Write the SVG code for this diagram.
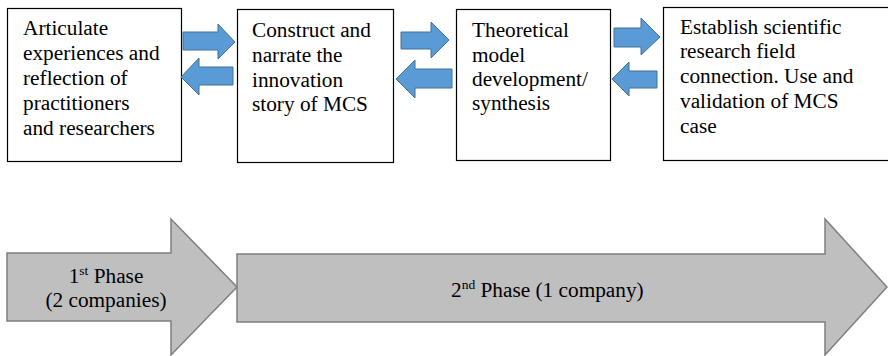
<svg xmlns="http://www.w3.org/2000/svg" width="888" height="356" viewBox="0 0 888 356">
<style>
.box{fill:#fff;stroke:#000;stroke-width:1.2}
.t{font-family:'Liberation Serif','DejaVu Serif',serif;font-size:21.3px;fill:#000}
.tb{font-family:'Liberation Serif','DejaVu Serif',serif;font-size:21.3px;fill:#000}
.sup{font-size:13.5px}
.blue{fill:#5b9bd5;stroke:#41719c;stroke-width:1}
.phase{fill:#bfbfbf;stroke:#7f7f7f;stroke-width:1.5}
</style>
<rect width="888" height="356" fill="#fff"/>
<g id="node1">
<rect class="box" x="7.5" y="8.5" width="174" height="153"/>
<text class="t"><tspan x="23" y="35">Articulate</tspan><tspan x="23" y="60">experiences and</tspan><tspan x="23" y="85">reflection of</tspan><tspan x="23" y="110">practitioners</tspan><tspan x="23" y="135">and researchers</tspan></text>
</g>
<g id="node2">
<rect class="box" x="237.5" y="9.5" width="156" height="153"/>
<text class="t"><tspan x="252" y="37">Construct and</tspan><tspan x="252" y="62">narrate the</tspan><tspan x="252" y="87">innovation</tspan><tspan x="252" y="111">story of MCS</tspan></text>
</g>
<g id="node3">
<rect class="box" x="456.5" y="9.5" width="154" height="151"/>
<text class="t"><tspan x="472" y="37">Theoretical</tspan><tspan x="472" y="62">model</tspan><tspan x="472" y="86">development/</tspan><tspan x="472" y="110">synthesis</tspan></text>
</g>
<g id="node4">
<rect class="box" x="663.5" y="7.5" width="230" height="153"/>
<text class="t"><tspan x="680" y="34">Establish scientific</tspan><tspan x="680" y="58">research field</tspan><tspan x="680" y="83">connection. Use and</tspan><tspan x="680" y="108">validation of MCS</tspan><tspan x="680" y="133">case</tspan></text>
</g>
<g id="connectors">
<polygon class="blue" points="183,32 218,32 218,24 235,42 218,59 218,50 183,50"/>
<polygon class="blue" points="233,67 199,67 199,58 181,77 199,95 199,85 233,85"/>
<polygon class="blue" points="401,32 431,32 431,22 449,40 431,58 431,49 401,49"/>
<polygon class="blue" points="452,69 415,69 415,60 396,79 415,98 415,88 452,88"/>
<polygon class="blue" points="614,28 641,28 641,18 660,37 641,55 641,47 614,47"/>
<polygon class="blue" points="657,71 629,71 629,62 612,79 629,96 629,88 657,88"/>
</g>
<g id="phase1">
<polygon class="phase" points="7,253 171,253 171,219 237,287 171,355 171,321 7,321"/>
<text class="tb" text-anchor="middle"><tspan x="106" y="283">1<tspan class="sup" dy="-8">st</tspan><tspan dy="8"> Phase</tspan></tspan><tspan x="106" y="307">(2 companies)</tspan></text>
</g>
<g id="phase2">
<polygon class="phase" points="237,254 825,254 825,219 887,287 825,355 825,322 237,322"/>
<text class="tb" x="451" y="297">2<tspan class="sup" dy="-8">nd</tspan><tspan dy="8"> Phase (1 company)</tspan></text>
</g>
</svg>
